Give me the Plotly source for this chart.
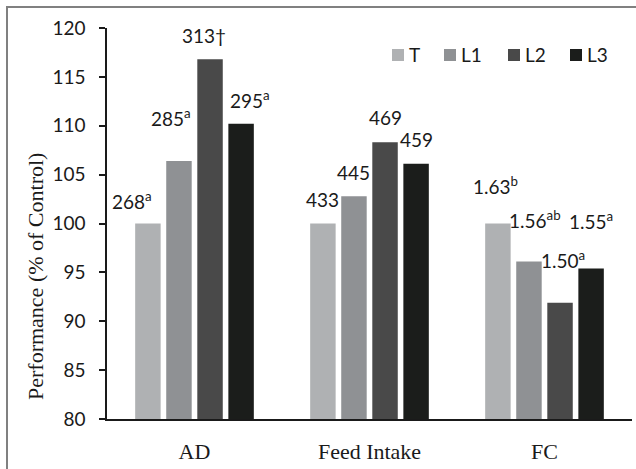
import plotly.graph_objects as go

categories = ["AD", "Feed Intake", "FC"]
series_names = ["T", "L1", "L2", "L3"]
values_T = [100, 100, 100]
values_L1 = [106.4, 102.8, 96.1]
values_L2 = [116.8, 108.3, 91.9]
values_L3 = [110.2, 106.1, 95.4]
labels_T = ["268<sup>a</sup>", "433", "1.63<sup>b</sup>"]
labels_L1 = ["285<sup>a</sup>", "445", "1.56<sup>ab</sup>"]
labels_L2 = ["313†", "469", "1.50<sup>a</sup>"]
labels_L3 = ["295<sup>a</sup>", "459", "1.55<sup>a</sup>"]
y_ticks = [80, 85, 90, 95, 100, 105, 110, 115, 120]

series_values = [values_T, values_L1, values_L2, values_L3]
series_labels = [labels_T, labels_L1, labels_L2, labels_L3]
colors = ["#afb1b3", "#8f9194", "#494949", "#1b1d1b"]

# label offsets (px) relative to bar centre / top, per series per category
label_dx = [[-16, 0, -2], [-8, 0, 6], [-6, 0, 3], [9, 0, 0]]
label_dy = [[23, 24, 38], [43, 24, 42], [24, 25, 43], [24, 24, 48]]

W, H = 636, 469
L, R, T, B = 107, 4, 28, 50
pw = W - L - R
ph = H - T - B
bargap = 0.29
cat_px = pw / len(categories)
slot = cat_px * (1 - bargap) / len(series_names)

fig = go.Figure()
for i, name in enumerate(series_names):
    fig.add_trace(go.Bar(
        x=categories, y=series_values[i], name=name,
        marker=dict(color=colors[i], line=dict(width=0)),
        showlegend=False, hoverinfo="skip",
    ))

annotations = []
for i in range(len(series_names)):
    for j, cat in enumerate(categories):
        annotations.append(dict(
            x=cat, xref="x", y=series_values[i][j], yref="y",
            text=series_labels[i][j], showarrow=False,
            xshift=(i - 1.5) * slot + label_dx[i][j],
            yshift=label_dy[i][j], yanchor="middle", xanchor="center",
            font=dict(family="Lato", size=19, color="#1a1a1a"),
        ))

def px2x(px):
    return (px - L) / pw

def px2y(py):
    return (H - B - py) / ph

# custom legend
shapes = []
leg_sq = [392, 444, 508, 570]
leg_y = 55
for i, name in enumerate(series_names):
    shapes.append(dict(type="rect", xref="paper", yref="paper",
                       x0=px2x(leg_sq[i]), x1=px2x(leg_sq[i] + 12),
                       y0=px2y(leg_y + 6), y1=px2y(leg_y - 6),
                       fillcolor=colors[i], line=dict(width=0)))
    annotations.append(dict(x=px2x(leg_sq[i] + 15), y=px2y(leg_y), xref="paper", yref="paper",
                            text=name, showarrow=False, xanchor="left", yanchor="middle",
                            font=dict(family="Lato", size=19, color="#1a1a1a")))

# y-axis title as annotation (offset from axis centre)
annotations.append(dict(x=px2x(35), y=px2y(277), xref="paper", yref="paper",
                        text="Performance (% of Control)", textangle=-90, showarrow=False,
                        xanchor="center", yanchor="middle",
                        font=dict(family="Liberation Serif", size=22, color="#1a1a1a")))

# outer frame
shapes.append(dict(type="rect", xref="paper", yref="paper",
                   x0=px2x(7), x1=px2x(645), y0=px2y(480), y1=px2y(7),
                   line=dict(color="#808080", width=2), fillcolor="rgba(0,0,0,0)", layer="below"))

fig.update_layout(
    width=W, height=H,
    margin=dict(l=L, r=R, t=T, b=B),
    paper_bgcolor="white", plot_bgcolor="white",
    barmode="group", bargap=bargap, bargroupgap=0.18,
    annotations=annotations, shapes=shapes,
    xaxis=dict(showline=True, linecolor="#1a1a1a", linewidth=1.5, ticks="",
               range=[-0.5, 2.5], showgrid=False, ticklabelstandoff=12,
               tickfont=dict(family="Liberation Serif", size=22, color="#1a1a1a")),
    yaxis=dict(range=[80, 120], tickvals=y_ticks, showline=True, linecolor="#1a1a1a",
               linewidth=1.5, ticks="outside", ticklen=6, tickcolor="#1a1a1a", tickwidth=1.5,
               showgrid=False, zeroline=False, ticklabelstandoff=10,
               tickfont=dict(family="Lato", size=19, color="#1a1a1a")),
)

fig.write_html(
    "out.html",
    config={"displayModeBar": False},
    post_script="document.body.style.margin='0';document.body.style.overflow='hidden';",
)
